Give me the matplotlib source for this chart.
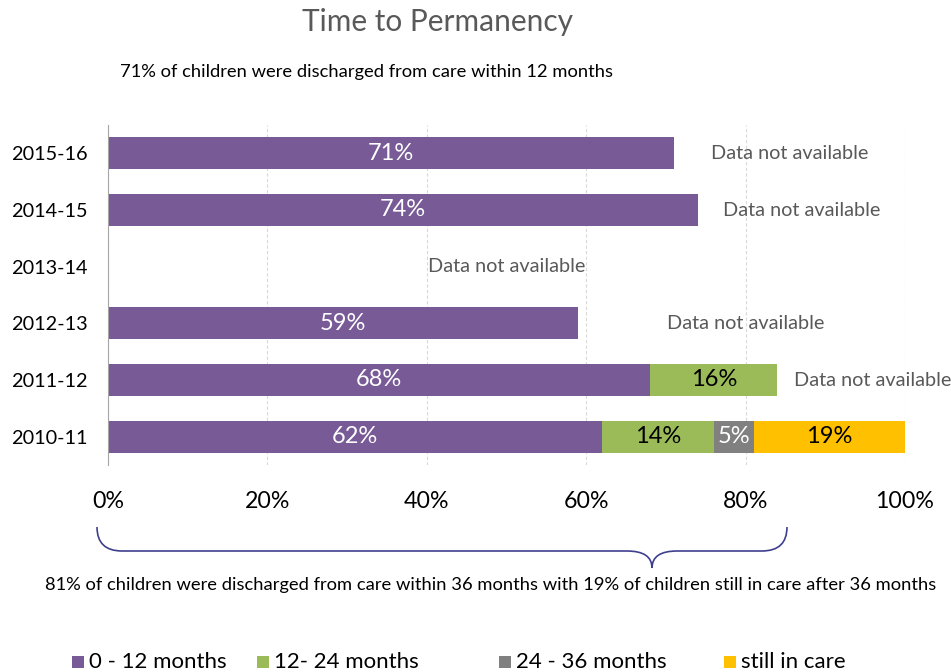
import matplotlib
matplotlib.use("Agg")
import matplotlib.pyplot as plt
from matplotlib.path import Path
from matplotlib.patches import PathPatch, Rectangle

plt.rcParams['font.family'] = ['Lato', 'DejaVu Sans']

years = ['2010-11', '2011-12', '2012-13', '2013-14', '2014-15', '2015-16']
m0_12 = [62, 68, 59, 0, 74, 71]
m12_24 = [14, 16, 0, 0, 0, 0]
m24_36 = [5, 0, 0, 0, 0, 0]
still_in_care = [19, 0, 0, 0, 0, 0]
series_names = ['0 - 12 months', '12- 24 months', '24 - 36 months', 'still in care']
colors = ['#775A96', '#9BBB59', '#808080', '#FFC000']
label_colors = ['white', 'black', 'white', 'black']
na_x = [None, 96, 80, 50, 87, 85.5]  # position of "Data not available" notes
xticks = [0, 20, 40, 60, 80, 100]

W, H = 951, 672
fig = plt.figure(figsize=(W / 100, H / 100), dpi=100)
ax = fig.add_axes([108 / W, 1 - 465 / H, 797 / W, 340 / H])

series = [m0_12, m12_24, m24_36, still_in_care]
left = [0] * len(years)
for vals, name, c, lc in zip(series, series_names, colors, label_colors):
    bars = ax.barh(range(len(years)), vals, left=left, height=0.57, color=c, label=name, zorder=3)
    for b, v in zip(bars, vals):
        if v > 0:
            ax.text(b.get_x() + b.get_width() / 2, b.get_y() + b.get_height() / 2, f'{v}%',
                    ha='center', va='center', color=lc, fontsize=17, zorder=4)
    left = [l + v for l, v in zip(left, vals)]

for i, x in enumerate(na_x):
    if x is not None:
        ax.text(x, i, 'Data not available', ha='center', va='center', color='#595959',
                fontsize=14.3, clip_on=False)

ax.set_xlim(0, 100)
ax.set_ylim(-0.5, 5.5)
ax.set_yticks(range(len(years)))
ax.set_yticklabels(years, fontsize=14.3)
ax.set_xticks(xticks)
ax.set_xticklabels([f'{t}%' for t in xticks], fontsize=16.7)
ax.tick_params(axis='both', length=0)
ax.tick_params(axis='x', pad=19)
ax.tick_params(axis='y', pad=15)
ax.grid(axis='x', color='#D9D9D9', linestyle=(0, (3, 2)), linewidth=0.8, zorder=0)
for s in ['top', 'right', 'bottom']:
    ax.spines[s].set_visible(False)
ax.spines['left'].set_color('#A6A6A6')
ax.spines['left'].set_zorder(5)

fig.text(437 / W, 1 - 22 / H, 'Time to Permanency', ha='center', va='center', fontsize=21.5, color='#595959')
fig.text(367 / W, 1 - 72 / H, '71% of children were discharged from care within 12 months',
         ha='center', va='center', fontsize=13.2, color='black')
fig.text(491 / W, 1 - 585 / H,
         '81% of children were discharged from care within 36 months with 19% of children still in care after 36 months',
         ha='center', va='center', fontsize=13.2, color='black')

# curly brace under the axis
def p(x, y):
    return (x / W, 1 - y / H)

verts = [p(97, 527), p(97, 551), p(122, 551), p(627, 551), p(652, 551), p(652, 568),
         p(652, 551), p(677, 551), p(762, 551), p(787, 551), p(787, 527)]
codes = [Path.MOVETO, Path.CURVE3, Path.CURVE3, Path.LINETO, Path.CURVE3, Path.CURVE3,
         Path.CURVE3, Path.CURVE3, Path.LINETO, Path.CURVE3, Path.CURVE3]
fig.patches.append(PathPatch(Path(verts, codes), transform=fig.transFigure, fill=False,
                             edgecolor='#3F3F8F', linewidth=1.2))

# legend along the bottom
legend_x = [72, 257, 499, 724]
for lx, c, n in zip(legend_x, colors, series_names):
    fig.patches.append(Rectangle(p(lx, 668), 12 / W, 12 / H, transform=fig.transFigure,
                                 facecolor=c, edgecolor='none'))
    fig.text((lx + 17) / W, 1 - 662 / H, n, ha='left', va='center', fontsize=16, color='black')

fig.savefig('out.png', dpi=100)
